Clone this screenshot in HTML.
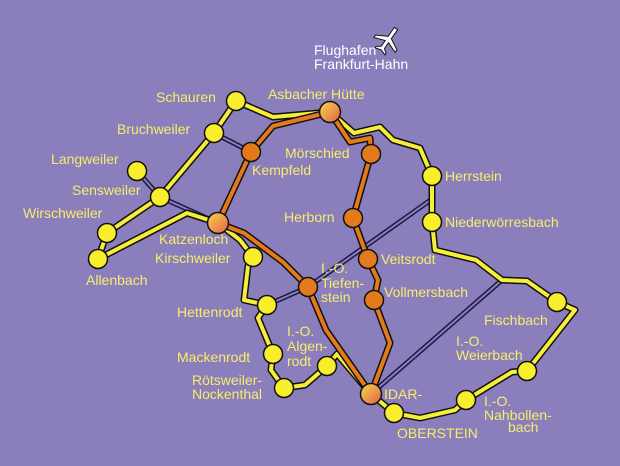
<!DOCTYPE html>
<html><head><meta charset="utf-8"><style>
html,body{margin:0;padding:0;background:#8a7ebd;}
svg{display:block}
text{font-family:"Liberation Sans",sans-serif;font-size:14px;fill:#f6ee6a;}
</style></head><body>
<svg width="620" height="466" viewBox="0 0 620 466" xmlns="http://www.w3.org/2000/svg">
<defs>
<linearGradient id="g" x1="0" y1="0" x2="1" y2="1"><stop offset="0" stop-color="#f7d84a"/><stop offset="1" stop-color="#e0604a"/></linearGradient>
</defs>
<rect width="620" height="466" fill="#8a7ebd"/>
<g fill="none" stroke-linecap="round">
<g stroke="#1c1840" stroke-width="5">
<path d="M214 133 L251 152"/><path d="M137 171 L160 197 L218 223"/>
<path d="M267 305 L308 287 L432 199"/><path d="M371 394 L502 280"/>
</g>
<g stroke="#8a7ebd" stroke-width="2">
<path d="M214 133 L251 152"/><path d="M137 171 L160 197 L218 223"/>
<path d="M267 305 L308 287 L432 199"/><path d="M371 394 L502 280"/>
</g>
</g>
<g fill="none" stroke-linejoin="round">
<g stroke="#111" stroke-width="7">
<path d="M98 259 L107 233 L160 197 L214 133 L236 101 L273 117 L330 112 L354 133 L380 127 L393 140 L420 148 L432 176 L432 222 L435 250 L476 260 L502 280 L527 281 L557 302 L575 310 L527 371 L512 372 L466 400 L455 410 L420 418 L394 413 L371 394 L337 354 L327 366 L305 385 L284 388 L271 370 L273 354 L258 318 L267 305 L244 300 L248 266 L253 257 L240 240 L218 223 L187 213 L98 259"/>
</g>
<g stroke="#f6ee3a" stroke-width="4">
<path d="M98 259 L107 233 L160 197 L214 133 L236 101 L273 117 L330 112 L354 133 L380 127 L393 140 L420 148 L432 176 L432 222 L435 250 L476 260 L502 280 L527 281 L557 302 L575 310 L527 371 L512 372 L466 400 L455 410 L420 418 L394 413 L371 394 L337 354 L327 366 L305 385 L284 388 L271 370 L273 354 L258 318 L267 305 L244 300 L248 266 L253 257 L240 240 L218 223 L187 213 L98 259"/>
</g>
<g stroke="#111" stroke-width="7">
<path d="M330 112 L273 126 L251 152 L218 223 L244 233 L283 262 L308 287 L326 330 L371 394"/>
<path d="M330 112 L350 142 L370 138 L371 154 L353 218 L368 259 L378 280 L374 300 L390 343 L371 394"/>
</g>
<g stroke="#e47a1c" stroke-width="4">
<path d="M330 112 L273 126 L251 152 L218 223 L244 233 L283 262 L308 287 L326 330 L371 394"/>
<path d="M330 112 L350 142 L370 138 L371 154 L353 218 L368 259 L378 280 L374 300 L390 343 L371 394"/>
</g>
</g>
<g stroke="#111" stroke-width="1.5">
<g fill="#f8ee2c">
<circle cx="236" cy="101" r="9.5"/><circle cx="214" cy="133" r="9.5"/><circle cx="137" cy="171" r="9.5"/>
<circle cx="160" cy="197" r="9.5"/><circle cx="107" cy="233" r="9.5"/><circle cx="98" cy="259" r="9.5"/>
<circle cx="432" cy="176" r="9.5"/><circle cx="432" cy="222" r="9.5"/><circle cx="253" cy="257" r="9.5"/>
<circle cx="267" cy="305" r="9.5"/><circle cx="557" cy="302" r="9.5"/><circle cx="273" cy="354" r="9.5"/>
<circle cx="327" cy="366" r="9.5"/><circle cx="527" cy="371" r="9.5"/><circle cx="284" cy="388" r="9.5"/>
<circle cx="394" cy="413" r="9.5"/><circle cx="466" cy="400" r="9.5"/>
</g>
<g fill="#e47a1c">
<circle cx="251" cy="152" r="9.5"/><circle cx="371" cy="154" r="9.5"/><circle cx="353" cy="218" r="9.5"/>
<circle cx="368" cy="259" r="9.5"/><circle cx="308" cy="287" r="9.5"/><circle cx="374" cy="300" r="9.5"/>
</g>
<g fill="url(#g)">
<circle cx="330" cy="112" r="10.5"/><circle cx="218" cy="223" r="10.5"/><circle cx="371" cy="394" r="10.5"/>
</g>
</g>
<g transform="translate(388,40) rotate(35)" fill="#fff" stroke="#111" stroke-width="1">
<path d="M-2 -14 L2 -14 L2 -3 L13 3 L13 6 L2 2 L2 9 L6 12 L6 14 L0 12 L-6 14 L-6 12 L-2 9 L-2 2 L-13 6 L-13 3 L-2 -3 Z"/>
</g>
<text x="314" y="55" style="fill:#fff">Flughafen</text>
<text x="314" y="69" style="fill:#fff">Frankfurt-Hahn</text>
<text x="156" y="102">Schauren</text>
<text x="268" y="99">Asbacher Hütte</text>
<text x="117" y="134">Bruchweiler</text>
<text x="285" y="158">Mörschied</text>
<text x="252" y="175">Kempfeld</text>
<text x="51" y="164">Langweiler</text>
<text x="72" y="195">Sensweiler</text>
<text x="445" y="181">Herrstein</text>
<text x="23" y="218">Wirschweiler</text>
<text x="284" y="222">Herborn</text>
<text x="445" y="227">Niederwörresbach</text>
<text x="159" y="244">Katzenloch</text>
<text x="155" y="263">Kirschweiler</text>
<text x="381" y="264">Veitsrodt</text>
<text x="86" y="285">Allenbach</text>
<text x="321" y="273">I.-O.</text>
<text x="321" y="288">Tiefen-</text>
<text x="321" y="302">stein</text>
<text x="384" y="297">Vollmersbach</text>
<text x="177" y="317">Hettenrodt</text>
<text x="484" y="325">Fischbach</text>
<text x="287" y="336">I.-O.</text>
<text x="287" y="351">Algen-</text>
<text x="287" y="366">rodt</text>
<text x="177" y="362">Mackenrodt</text>
<text x="456" y="346">I.-O.</text>
<text x="456" y="360">Weierbach</text>
<text x="192" y="385">Rötsweiler-</text>
<text x="192" y="399">Nockenthal</text>
<text x="384" y="399">IDAR-</text>
<text x="397" y="438">OBERSTEIN</text>
<text x="484" y="406">I.-O.</text>
<text x="484" y="420">Nahbollen-</text>
<text x="508" y="432">bach</text>
</svg>
</body></html>
